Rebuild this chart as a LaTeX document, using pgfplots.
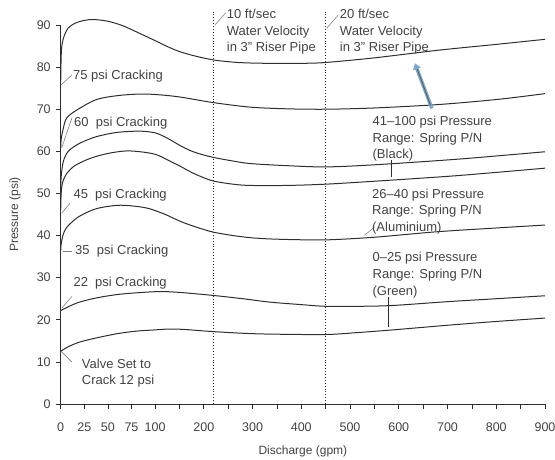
\documentclass[border=0pt]{standalone}
\usepackage{fontspec}
\setmainfont{Liberation Sans}
\usepackage{pgfplots}
\pgfplotsset{compat=1.18}
\usetikzlibrary{arrows.meta}
\definecolor{txt}{HTML}{424242}
\definecolor{crv}{HTML}{2E2E2E}
\definecolor{lead}{HTML}{808080}
\definecolor{blu}{HTML}{7FA6C8}
\newcommand\af{\fontsize{13}{16.7}\selectfont}

\begin{document}
\begin{tikzpicture}
\path[use as bounding box] (-60.7pt,-56pt) rectangle (494.3pt,404pt);
\begin{axis}[
  at={(0,0)}, anchor=south west,
  scale only axis, width=484.3pt, height=379pt,
  % 0-100 gpm is drawn at twice the scale of 100-900 gpm
  x coord trafo/.code={\pgfmathparse{#1<=100 ? #1 : 100+0.5167*(#1-100)}},
  xmin=0, xmax=900, ymin=0, ymax=90,
  clip=false,
  axis lines=left,
  axis line style={-, draw=crv, line width=0.8pt},
  tick align=outside, major tick length=5pt,
  tick style={draw=crv, line width=0.7pt},
  xtick={0,25,50,75,100,150,200,250,300,350,400,450,500,550,600,650,700,750,800,850,900},
  xticklabels={0,25,50,75,100,,200,,300,,400,,500,,600,,700,,800,,900},
  ytick={0,10,20,30,40,50,60,70,80,90},
  /pgf/number format/assume math mode=true,
  tick label style={font=\fontsize{12.5}{14}\selectfont, text=txt},
  xticklabel style={yshift=-10pt},
  yticklabel style={xshift=-1.5pt},
  xlabel={Discharge (gpm)},
  ylabel={Pressure (psi)},
  label style={font=\fontsize{12}{14}\selectfont, text=txt},
  x label style={at={(axis description cs:0.5,-0.1259)}, anchor=center},
  y label style={at={(axis description cs:-0.0944,0.5)}, anchor=center},
  curve/.style={crv, line width=1pt, smooth, tension=0.5, no marks, solid},
  vel/.style={crv, line width=0.9pt, dotted, no marks, sharp plot},
]
% 75 psi cracking
\addplot[curve] coordinates {(0,76.2) (0.5,82.6) (1.5,85.5) (4,87.6) (8,89.3) (15,90.4) (25,91.1)
  (35,91.3) (50,90.9) (65,89.9) (80,88.4) (100,86.3) (125,84.9) (150,83.7) (180,82.7)
  (220,81.7) (270,81.1) (330,80.9) (400,80.9) (450,81.1) (550,82.2) (680,84.0) (800,85.4) (900,86.6)};
% 60 psi cracking
\addplot[curve] coordinates {(0,60.7) (0.6,63) (2.8,65.5) (6.3,67.9) (17,69.8) (38,72.3) (63,73.3)
  (91,73.6) (145,73.0) (218,71.6) (295,70.5) (370,70.1) (450,70.0) (550,70.3) (680,71.1)
  (800,72.3) (900,73.7)};
% upper curve starting near 50 psi
\addplot[curve] coordinates {(0,51) (0.5,54) (2.8,57.6) (8,60) (20,61.9) (38,63.5) (60,64.5) (84,64.8)
  (100,64.4) (117,63.6) (135,62.5) (151,61.4) (170,60.3) (186,59.6) (218,58.6) (260,57.7)
  (295,57.1) (370,56.6) (450,56.3) (550,56.8) (705,58.0) (800,58.9) (900,59.9)};
% 45 psi cracking
\addplot[curve] coordinates {(0,46) (0.5,50) (2,52.6) (6.3,54.7) (15,56.6) (31,58.3) (50,59.5) (70,60.1)
  (88,59.8) (103,59.2) (125,58.0) (151,56.5) (170,55.3) (186,54.4) (218,53.0) (260,52.2)
  (295,51.9) (370,51.9) (450,52.2) (550,52.9) (705,54.1) (800,55) (900,56)};
% 35 psi cracking
\addplot[curve] coordinates {(0,36.2) (0.5,38) (2.8,40.4) (6,41.8) (10,42.8) (20,44.6) (38,46.4)
  (63,47.2) (90,46.6) (117,45.2) (140,44) (160,43) (190,41.8) (220,40.8) (260,40) (295,39.5)
  (335,39.2) (400,39.0) (458,39.0) (550,39.6) (678,40.9) (800,41.8) (900,42.5)};
% 22 psi cracking
\addplot[curve] coordinates {(0,22.2) (10,23.3) (20,24.2) (38,25.2) (60,26) (80,26.4) (110,26.7)
  (150,26.5) (218,25.8) (280,25) (335,24.2) (400,23.6) (450,23.2) (520,23.2) (588,23.4)
  (700,24.3) (800,25) (900,25.7)};
% 12 psi cracking
\addplot[curve] coordinates {(0,12.5) (8,13.6) (20,14.7) (38,15.7) (60,16.7) (80,17.3) (100,17.6)
  (130,17.8) (160,17.7) (218,17.2) (280,16.8) (335,16.6) (450,16.5) (520,17.0) (588,17.6)
  (700,18.7) (800,19.6) (900,20.4)};
% water velocity lines
\addplot[vel] coordinates {(220,0) (220,93)};
\addplot[vel] coordinates {(450,0) (450,93)};

% leaders
\begin{scope}[lead, line width=0.6pt]
\draw (axis cs:0.5,75.8) -- (axis cs:11.7,78.1);
\draw (axis cs:1,60.8) -- (axis cs:12,68);
\draw (axis cs:1,45.3) -- (axis cs:9.9,47.7);
\draw (axis cs:2.8,36.2) -- (axis cs:11.7,36.2);
\draw (axis cs:1,22.7) -- (axis cs:11.7,25.5);
\draw (axis cs:1,12.4) -- (axis cs:11.7,10);
\draw (axis cs:223,90) -- (axis cs:245,92.9);
\draw (axis cs:452,89.2) -- (axis cs:476,92.4);
\draw (axis cs:530,40.1) -- (axis cs:551,42.1);
\end{scope}
\draw[crv, line width=0.7pt] (axis cs:585,58) -- (axis cs:585,54);
\draw[crv, line width=0.7pt] (axis cs:579,25.5) -- (axis cs:579,18.4);
\draw[blu, line width=3.5pt, -{Triangle[length=6pt,width=8pt]}] (axis cs:668,70.2) -- (axis cs:633,80.9);
\draw[crv!80, line width=0.8pt] (axis cs:665,71) -- (axis cs:638,79.5);

% texts
\begin{scope}[every node/.style={text=txt, font=\af, anchor=west, inner sep=0pt, align=left}]
\node at (axis cs:13,77.9) {75 psi Cracking};
\node at (axis cs:14,66.8) {60\ \ psi Cracking};
\node at (axis cs:13.4,49.6) {45\ \ psi Cracking};
\node at (axis cs:15.2,36.2) {35\ \ psi Cracking};
\node at (axis cs:13.4,28.8) {22\ \ psi Cracking};
\node at (axis cs:22.3,7.3) {Valve Set to\\Crack 12 psi};
\node at (axis cs:247,88.4) {10 ft/sec\\Water Velocity\\in 3'' Riser Pipe};
\node at (axis cs:479,88.4) {20 ft/sec\\Water Velocity\\in 3'' Riser Pipe};
\node at (axis cs:546,63.0) {41--100 psi Pressure\\Range: Spring P/N\\(Black)};
\node at (axis cs:545,45.7) {26--40 psi Pressure\\Range: Spring P/N\\(Aluminium)};
\node at (axis cs:546,30.6) {0--25 psi Pressure\\Range: Spring P/N\\(Green)};
\end{scope}
\end{axis}
\end{tikzpicture}
\end{document}
